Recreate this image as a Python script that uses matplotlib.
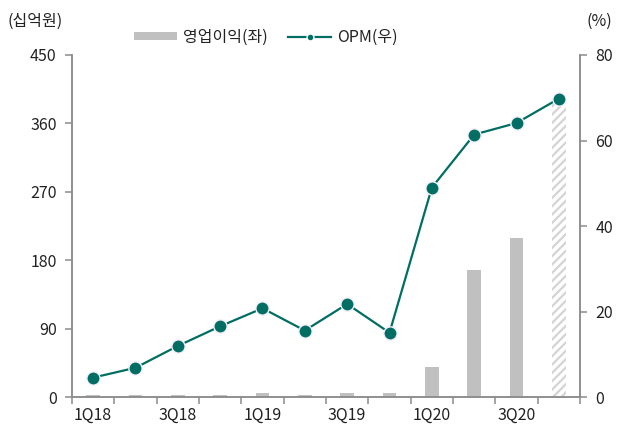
import matplotlib
matplotlib.use("Agg")
import matplotlib.pyplot as plt
from matplotlib.lines import Line2D
from matplotlib.patches import Patch
import numpy as np

plt.rcParams["font.family"] = ["Noto Sans CJK KR", "DejaVu Sans"]
plt.rcParams["hatch.linewidth"] = 1.6

# data
quarters = ["1Q18", "2Q18", "3Q18", "4Q18", "1Q19", "2Q19", "3Q19", "4Q19",
            "1Q20", "2Q20", "3Q20", "4Q20"]
op_profit = [3, 3, 3, 3, 5, 3, 5, 5, 40, 167, 210, 385]  # 십억원
opm = [4.6, 6.9, 12.0, 16.6, 20.8, 15.6, 21.8, 15.1, 49.0, 61.4, 64.1, 69.8]  # %
estimate_from = 11  # 4Q20 bar is an estimate (hatched)

left_ticks = [0, 90, 180, 270, 360, 450]
right_ticks = [0, 20, 40, 60, 80]

bar_color = "#c0c0c0"
line_color = "#006e63"
spine_color = "#8c8c8c"
text_color = "#222222"

fig = plt.figure(figsize=(6.28, 4.41), dpi=100)
ax = fig.add_axes([0.1146, 0.0991, 0.8090, 0.7762])
ax2 = ax.twinx()

x = np.arange(len(quarters))

# bars (left axis)
for i, (xi, v) in enumerate(zip(x, op_profit)):
    if i >= estimate_from:
        ax.bar(xi, v, width=0.34, facecolor="white", edgecolor="#d4d4d4",
               hatch="////", linewidth=0)
    else:
        ax.bar(xi, v, width=0.32, color=bar_color, linewidth=0)

# OPM line (right axis)
ax2.plot(x, opm, color=line_color, linewidth=1.6, marker="o", markersize=9.5,
         markerfacecolor=line_color, markeredgecolor="#f2eefa",
         markeredgewidth=1.0, zorder=3, clip_on=False)

ax.set_xlim(-0.5, len(quarters) - 0.5)
ax.set_ylim(0, 450)
ax2.set_ylim(0, 80)
ax.set_yticks(left_ticks)
ax2.set_yticks(right_ticks)

# ticks at category boundaries, labels every other quarter
ax.set_xticks(np.arange(-0.5, len(quarters), 1.0))
ax.set_xticklabels([])
ax.set_xticks(x[::2], minor=True)
ax.set_xticklabels(quarters[::2], minor=True)
ax.tick_params(axis="x", which="minor", length=0, pad=7)
ax.tick_params(axis="x", which="major", length=5, width=1.1, color=spine_color)

for a in (ax, ax2):
    a.tick_params(axis="y", length=5, width=1.1, color=spine_color,
                  labelsize=11.5, labelcolor=text_color, pad=6)
    a.tick_params(axis="x", which="both", labelsize=11.5, labelcolor=text_color)
    for side in ("left", "right", "bottom"):
        a.spines[side].set_color(spine_color)
        a.spines[side].set_linewidth(1.1)
    a.spines["top"].set_visible(False)

# unit labels
fig.text(0.012, 0.952, "(십억원)", fontsize=11.5, color=text_color, va="center")
fig.text(0.975, 0.952, "(%)", fontsize=11.5, color=text_color, va="center",
         ha="right")

# legend
handles = [
    Patch(facecolor=bar_color, edgecolor="none"),
    Line2D([0], [0], color=line_color, linewidth=1.6, marker="o",
           markersize=5, markerfacecolor=line_color, markeredgecolor="white"),
]
fig.legend(handles, ["영업이익(좌)", "OPM(우)"], loc="center",
           bbox_to_anchor=(0.423, 0.916), ncol=2, frameon=False,
           fontsize=11.5, handlelength=2.7, handleheight=0.45,
           columnspacing=1.3, handletextpad=0.35, labelcolor=text_color)

fig.savefig("out.png", dpi=100)
